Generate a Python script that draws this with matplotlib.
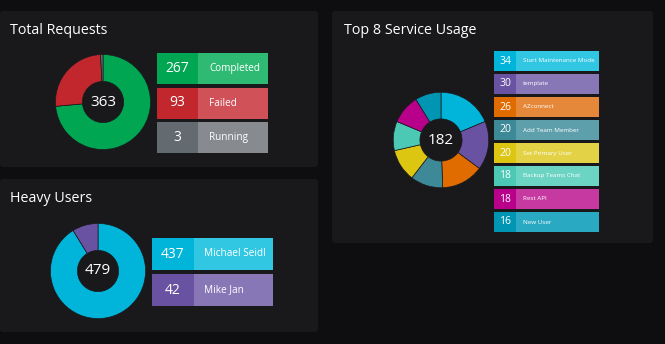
import matplotlib
matplotlib.use("Agg")
import matplotlib.pyplot as plt
from matplotlib.patches import FancyBboxPatch, Rectangle

plt.rcParams['font.family'] = ['Open Sans', 'DejaVu Sans']

# ---- data ----
req_labels = ["Completed", "Failed", "Running"]
req_values = [267, 93, 3]
req_dark = ["#00a651", "#c1272d", "#636a70"]
req_light = ["#2fba73", "#d05258", "#878b90"]

user_labels = ["Michael Seidl", "Mike Jan"]
user_values = [437, 42]
user_dark = ["#00b5d9", "#6a52a2"]
user_light = ["#31c7e2", "#8877b6"]

svc_labels = ["Start Maintenance Mode", "template", "AZconnect", "Add Team Member",
              "Set Primary User", "Backup Teams Chat", "Rest API", "New User"]
svc_values = [34, 30, 26, 20, 20, 18, 18, 16]
svc_dark = ["#00b5d9", "#6a52a2", "#e06c00", "#3d8998", "#dcc612", "#4cc9b5", "#b8008a", "#0096b3"]
svc_light = ["#31c7e2", "#8877b6", "#e5883a", "#5e9fac", "#e3d245", "#6cd4c3", "#c539a1", "#2aa9c2"]

W, H = 665, 344
FIG_BG = "#0e0e10"
PANEL_BG = "#19191c"

fig = plt.figure(figsize=(W / 100, H / 100), dpi=100, facecolor=FIG_BG)
base = fig.add_axes([0, 0, 1, 1])
base.set_xlim(0, W)
base.set_ylim(H, 0)
base.axis("off")
base.set_facecolor(FIG_BG)


def panel(x0, y0, x1, y1, title, tx, ty):
    base.add_patch(FancyBboxPatch((x0, y0), x1 - x0, y1 - y0,
                                  boxstyle="round,pad=0,rounding_size=3",
                                  fc=PANEL_BG, ec="none", zorder=1))
    base.text(tx, ty, title, color="white", fontsize=10.3, va="center", ha="left", zorder=3)


def donut(cx, cy, r_out, r_in, values, colors, total_text, fs=11):
    ax = fig.add_axes([(cx - r_out) / W, 1 - (cy + r_out) / H, 2 * r_out / W, 2 * r_out / H])
    ax.pie(values, colors=colors, startangle=90, counterclock=False, radius=1,
           wedgeprops=dict(width=1 - r_in / r_out, edgecolor=PANEL_BG, linewidth=0.5))
    ax.set_xlim(-1.02, 1.02)
    ax.set_ylim(-1.02, 1.02)
    ax.set_aspect("equal")
    ax.axis("off")
    ax.text(0, 0, total_text, color="white", fontsize=fs, ha="center", va="center")


def legend(x0, y0, w_val, w_tot, h, pitch, labels, values, dark, light, vfs, lfs, lpad):
    for i, (lab, val, dc, lc) in enumerate(zip(labels, values, dark, light)):
        y = y0 + i * pitch
        base.add_patch(Rectangle((x0, y), w_val, h, fc=dc, ec="none", zorder=2))
        base.add_patch(Rectangle((x0 + w_val, y), w_tot - w_val, h, fc=lc, ec="none", zorder=2))
        base.text(x0 + w_val / 2, y + h / 2, str(val), color="white", fontsize=vfs,
                  ha="center", va="center", zorder=3)
        base.text(x0 + w_val + lpad, y + h / 2, lab, color="white", fontsize=lfs,
                  ha="left", va="center", zorder=3)


# Total Requests
panel(0, 11, 318, 167, "Total Requests", 10, 30)
donut(103, 102, 48.5, 21, req_values, req_dark, str(sum(req_values)))
legend(157, 53, 41, 111, 31, 34.5, req_labels, req_values, req_dark, req_light, 10, 7.2, 11)

# Heavy Users
panel(0, 179, 318, 332, "Heavy Users", 10, 199)
donut(98, 271, 48.5, 21, user_values, user_dark, str(sum(user_values)))
legend(152, 238, 42, 121, 32, 36, user_labels, user_values, user_dark, user_light, 10, 7.2, 10)

# Top 8 Service Usage
panel(332, 11, 653, 243, "Top 8 Service Usage", 344, 31)
donut(441, 140, 48.7, 21.5, svc_values, svc_dark, str(sum(svc_values)))
legend(494, 51, 22, 105, 20, 23, svc_labels, svc_values, svc_dark, svc_light, 7.5, 4.5, 7)

fig.savefig("out.png", dpi=100, facecolor=FIG_BG)
